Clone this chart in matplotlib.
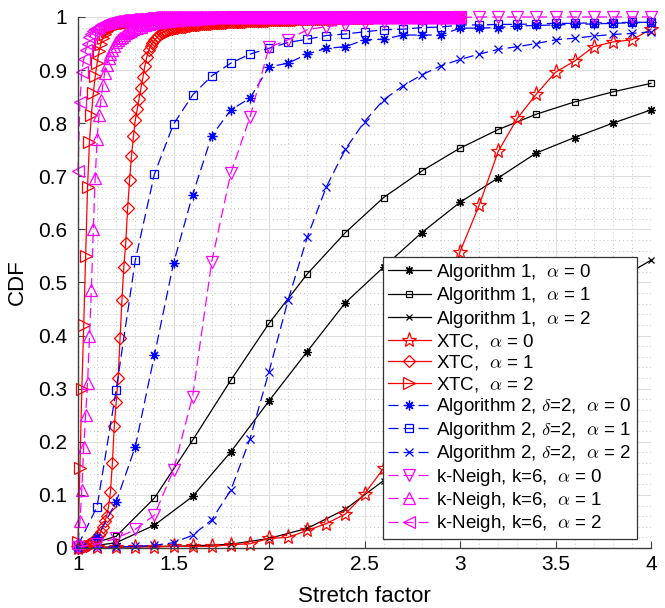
import numpy as np
import matplotlib
matplotlib.use('Agg')
import matplotlib.pyplot as plt
from matplotlib.ticker import MultipleLocator

plt.rcParams['font.family'] = ['Liberation Sans', 'DejaVu Sans']
plt.rcParams['mathtext.fontset'] = 'cm'

# x grids (stretch factor)
x_step2 = [1.0, 1.2, 1.4, 1.6, 1.8, 2.0, 2.2, 2.4, 2.6, 2.8, 3.0, 3.2, 3.4, 3.6, 3.8, 4.0]
x_step1 = [1.0, 1.1, 1.2, 1.3, 1.4, 1.5, 1.6, 1.7, 1.8, 1.9, 2.0, 2.1, 2.2, 2.3, 2.4, 2.5,
           2.6, 2.7, 2.8, 2.9, 3.0, 3.1, 3.2, 3.3, 3.4, 3.5, 3.6, 3.7, 3.8, 3.9, 4.0]
x_dense = np.round(np.arange(1.0, 3.0001, 0.01), 2)

# Algorithm 1
alg1_a0 = [0.0, 0.010, 0.043, 0.097, 0.181, 0.277, 0.370, 0.462, 0.529, 0.594, 0.651, 0.697, 0.744, 0.773, 0.800, 0.825]
alg1_a1 = [0.0, 0.022, 0.094, 0.203, 0.316, 0.423, 0.516, 0.594, 0.660, 0.710, 0.753, 0.788, 0.817, 0.840, 0.859, 0.875]
alg1_a2 = [0.0, 0.002, 0.003, 0.004, 0.007, 0.018, 0.037, 0.073, 0.127, 0.195, 0.265, 0.330, 0.390, 0.445, 0.500, 0.542]

# XTC
xtc_a0 = [0.0, 0.001, 0.002, 0.002, 0.002, 0.003, 0.003, 0.003, 0.006, 0.008, 0.018, 0.020, 0.033, 0.046, 0.064, 0.102,
          0.150, 0.220, 0.310, 0.430, 0.558, 0.645, 0.747, 0.809, 0.855, 0.896, 0.917, 0.944, 0.953, 0.957, 0.977]
xtc_a1 = [0.000, 0.001, 0.002, 0.003, 0.004, 0.005, 0.007, 0.009, 0.011, 0.015,
          0.020, 0.025, 0.031, 0.040, 0.050, 0.060, 0.078, 0.106, 0.160, 0.230,
          0.275, 0.320, 0.395, 0.467, 0.530, 0.575, 0.640, 0.693, 0.738, 0.775,
          0.806, 0.826, 0.845, 0.866, 0.887, 0.908, 0.925, 0.937, 0.945, 0.951,
          0.956, 0.960, 0.964, 0.967, 0.970, 0.972, 0.974, 0.976, 0.977, 0.978,
          0.979, 0.980, 0.980, 0.981, 0.981, 0.982, 0.982, 0.983, 0.983, 0.984,
          0.984, 0.985, 0.985, 0.985, 0.986, 0.986, 0.986, 0.987, 0.987, 0.987,
          0.988, 0.988, 0.988, 0.988, 0.989, 0.989, 0.989, 0.989, 0.990, 0.990,
          0.990, 0.990, 0.990, 0.991, 0.991, 0.991, 0.991, 0.991, 0.992, 0.992,
          0.992, 0.992, 0.992, 0.992, 0.993, 0.993, 0.993, 0.993, 0.993, 0.993,
          0.994, 0.994, 0.994, 0.994, 0.994, 0.994, 0.995, 0.995, 0.995, 0.995,
          0.995, 0.995, 0.995, 0.995, 0.996, 0.996, 0.996, 0.996, 0.996, 0.996,
          0.996, 0.996, 0.996, 0.997, 0.997, 0.997, 0.997, 0.997, 0.997, 0.997,
          0.997, 0.997, 0.997, 0.997, 0.997, 0.998, 0.998, 0.998, 0.998, 0.998,
          0.998, 0.998, 0.998, 0.998, 0.998, 0.998, 0.998, 0.998, 0.998, 0.998,
          0.998, 0.998, 0.998, 0.998, 0.998, 0.999, 0.999, 0.999, 0.999, 0.999,
          0.999, 0.999, 0.999, 0.999, 0.999, 0.999, 0.999, 0.999, 0.999, 0.999,
          0.999, 0.999, 0.999, 0.999, 0.999, 0.999, 0.999, 0.999, 0.999, 0.999,
          0.999, 0.999, 0.999, 0.999, 0.999, 0.999, 1.0, 1.0, 1.0, 1.0,
          1.0, 1.0, 1.0, 1.0, 1.0, 1.0, 1.0, 1.0, 1.0, 1.0,
          1.0]
xtc_a2 = [0.012, 0.150, 0.300, 0.420, 0.550, 0.680, 0.765, 0.815, 0.856, 0.888,
          0.913, 0.935, 0.950, 0.960, 0.968, 0.973, 0.977, 0.980, 0.982, 0.984,
          0.985, 0.986, 0.987, 0.988, 0.988, 0.989, 0.990, 0.990, 0.991, 0.991,
          0.992, 0.992, 0.993, 0.993, 0.993, 0.994, 0.994, 0.994, 0.995, 0.995,
          0.995, 0.995, 0.996, 0.996, 0.996, 0.996, 0.996, 0.997, 0.997, 0.997,
          0.997, 0.997, 0.997, 0.998, 0.998, 0.998, 0.998, 0.998, 0.998, 0.998,
          0.998, 0.998, 0.998, 0.998, 0.998, 0.998, 0.998, 0.998, 0.998, 0.998,
          0.998, 0.998, 0.998, 0.998, 0.998, 0.998, 0.998, 0.998, 0.998, 0.998,
          0.999, 0.999, 0.999, 0.999, 0.999, 0.999, 0.999, 0.999, 0.999, 0.999,
          0.999, 0.999, 0.999, 0.999, 0.999, 0.999, 0.999, 0.999, 0.999, 0.999,
          0.999, 0.999, 0.999, 0.999, 0.999, 0.999, 0.999, 0.999, 0.999, 0.999,
          0.999, 0.999, 0.999, 0.999, 0.999, 0.999, 0.999, 0.999, 0.999, 0.999,
          1.0, 1.0, 1.0, 1.0, 1.0, 1.0, 1.0, 1.0, 1.0, 1.0,
          1.0, 1.0, 1.0, 1.0, 1.0, 1.0, 1.0, 1.0, 1.0, 1.0,
          1.0, 1.0, 1.0, 1.0, 1.0, 1.0, 1.0, 1.0, 1.0, 1.0,
          1.0, 1.0, 1.0, 1.0, 1.0, 1.0, 1.0, 1.0, 1.0, 1.0,
          1.0, 1.0, 1.0, 1.0, 1.0, 1.0, 1.0, 1.0, 1.0, 1.0,
          1.0, 1.0, 1.0, 1.0, 1.0, 1.0, 1.0, 1.0, 1.0, 1.0,
          1.0, 1.0, 1.0, 1.0, 1.0, 1.0, 1.0, 1.0, 1.0, 1.0,
          1.0, 1.0, 1.0, 1.0, 1.0, 1.0, 1.0, 1.0, 1.0, 1.0,
          1.0]

# Algorithm 2, delta = 2
alg2_a0 = [0.0, 0.020, 0.087, 0.191, 0.363, 0.536, 0.665, 0.776, 0.825, 0.847, 0.906, 0.913, 0.930, 0.941, 0.944, 0.957,
           0.958, 0.966, 0.966, 0.966, 0.979, 0.979, 0.980, 0.983, 0.984, 0.985, 0.986, 0.987, 0.988, 0.989, 0.990]
alg2_a1 = [0.005, 0.078, 0.298, 0.542, 0.704, 0.798, 0.853, 0.889, 0.913, 0.930, 0.941, 0.952, 0.958, 0.965, 0.968, 0.972,
           0.976, 0.977, 0.980, 0.981, 0.985, 0.985, 0.986, 0.986, 0.987, 0.988, 0.988, 0.989, 0.989, 0.990, 0.990]
alg2_a2 = [0.0, 0.001, 0.002, 0.003, 0.005, 0.010, 0.024, 0.053, 0.109, 0.205, 0.332, 0.467, 0.585, 0.680, 0.751, 0.803,
           0.844, 0.870, 0.891, 0.908, 0.920, 0.930, 0.939, 0.944, 0.950, 0.957, 0.960, 0.964, 0.967, 0.969, 0.972]

# k-Neigh, k = 6
kn_a0 = [0.002, 0.008, 0.018, 0.035, 0.062, 0.147, 0.285, 0.539, 0.706, 0.811, 0.943, 0.957, 0.976, 0.982, 0.985, 0.989,
         0.991, 0.993, 0.995, 0.997, 0.999, 1.0, 1.0, 1.0, 1.0, 1.0, 1.0, 1.0, 1.0, 1.0, 1.0]
kn_a1 = [0.010, 0.050, 0.110, 0.190, 0.250, 0.310, 0.400, 0.486, 0.600, 0.696,
         0.770, 0.815, 0.844, 0.872, 0.895, 0.910, 0.922, 0.930, 0.938, 0.946,
         0.952, 0.956, 0.960, 0.963, 0.966, 0.969, 0.971, 0.973, 0.975, 0.977,
         0.979, 0.980, 0.981, 0.982, 0.984, 0.985, 0.986, 0.987, 0.988, 0.989,
         0.990, 0.990, 0.991, 0.991, 0.992, 0.992, 0.993, 0.993, 0.994, 0.994,
         0.994, 0.995, 0.995, 0.995, 0.996, 0.996, 0.996, 0.996, 0.997, 0.997,
         0.997, 0.997, 0.997, 0.998, 0.998, 0.998, 0.998, 0.998, 0.998, 0.998,
         0.999, 0.999, 0.999, 0.999, 0.999, 0.999, 0.999, 0.999, 0.999, 0.999,
         0.999, 0.999, 0.999, 0.999, 0.999, 1.0, 1.0, 1.0, 1.0, 1.0,
         1.0, 1.0, 1.0, 1.0, 1.0, 1.0, 1.0, 1.0, 1.0, 1.0,
         1.0, 1.0, 1.0, 1.0, 1.0, 1.0, 1.0, 1.0, 1.0, 1.0,
         1.0, 1.0, 1.0, 1.0, 1.0, 1.0, 1.0, 1.0, 1.0, 1.0,
         1.0, 1.0, 1.0, 1.0, 1.0, 1.0, 1.0, 1.0, 1.0, 1.0,
         1.0, 1.0, 1.0, 1.0, 1.0, 1.0, 1.0, 1.0, 1.0, 1.0,
         1.0, 1.0, 1.0, 1.0, 1.0, 1.0, 1.0, 1.0, 1.0, 1.0,
         1.0, 1.0, 1.0, 1.0, 1.0, 1.0, 1.0, 1.0, 1.0, 1.0,
         1.0, 1.0, 1.0, 1.0, 1.0, 1.0, 1.0, 1.0, 1.0, 1.0,
         1.0, 1.0, 1.0, 1.0, 1.0, 1.0, 1.0, 1.0, 1.0, 1.0,
         1.0, 1.0, 1.0, 1.0, 1.0, 1.0, 1.0, 1.0, 1.0, 1.0,
         1.0, 1.0, 1.0, 1.0, 1.0, 1.0, 1.0, 1.0, 1.0, 1.0,
         1.0]
kn_a2 = [0.709, 0.840, 0.897, 0.920, 0.937, 0.950, 0.962, 0.968, 0.973, 0.977,
         0.980, 0.982, 0.984, 0.986, 0.987, 0.988, 0.989, 0.990, 0.991, 0.992,
         0.993, 0.993, 0.994, 0.994, 0.995, 0.995, 0.995, 0.996, 0.996, 0.996,
         0.997, 0.997, 0.997, 0.997, 0.998, 0.998, 0.998, 0.998, 0.998, 0.999,
         0.999, 0.999, 0.999, 0.999, 0.999, 0.999, 0.999, 0.999, 0.999, 0.999,
         0.999, 0.999, 0.999, 0.999, 0.999, 0.999, 0.999, 0.999, 0.999, 0.999,
         1.0, 1.0, 1.0, 1.0, 1.0, 1.0, 1.0, 1.0, 1.0, 1.0,
         1.0, 1.0, 1.0, 1.0, 1.0, 1.0, 1.0, 1.0, 1.0, 1.0,
         1.0, 1.0, 1.0, 1.0, 1.0, 1.0, 1.0, 1.0, 1.0, 1.0,
         1.0, 1.0, 1.0, 1.0, 1.0, 1.0, 1.0, 1.0, 1.0, 1.0,
         1.0, 1.0, 1.0, 1.0, 1.0, 1.0, 1.0, 1.0, 1.0, 1.0,
         1.0, 1.0, 1.0, 1.0, 1.0, 1.0, 1.0, 1.0, 1.0, 1.0,
         1.0, 1.0, 1.0, 1.0, 1.0, 1.0, 1.0, 1.0, 1.0, 1.0,
         1.0, 1.0, 1.0, 1.0, 1.0, 1.0, 1.0, 1.0, 1.0, 1.0,
         1.0, 1.0, 1.0, 1.0, 1.0, 1.0, 1.0, 1.0, 1.0, 1.0,
         1.0, 1.0, 1.0, 1.0, 1.0, 1.0, 1.0, 1.0, 1.0, 1.0,
         1.0, 1.0, 1.0, 1.0, 1.0, 1.0, 1.0, 1.0, 1.0, 1.0,
         1.0, 1.0, 1.0, 1.0, 1.0, 1.0, 1.0, 1.0, 1.0, 1.0,
         1.0, 1.0, 1.0, 1.0, 1.0, 1.0, 1.0, 1.0, 1.0, 1.0,
         1.0, 1.0, 1.0, 1.0, 1.0, 1.0, 1.0, 1.0, 1.0, 1.0,
         1.0]

MAG = '#ff00ff'
ASTER = (8, 2, 0)
DASH = (0, (8, 4))

# (x, y, label, colour, linestyle, marker, markersize)
series = [
    (x_step2, alg1_a0, r'Algorithm 1,  $\alpha$ = 0', 'k', '-', ASTER, 6),
    (x_step2, alg1_a1, r'Algorithm 1,  $\alpha$ = 1', 'k', '-', 's', 5),
    (x_step2, alg1_a2, r'Algorithm 1,  $\alpha$ = 2', 'k', '-', 'x', 5),
    (x_step1, xtc_a0, r'XTC,  $\alpha$ = 0', 'r', '-', '*', 11),
    (x_dense, xtc_a1, r'XTC,  $\alpha$ = 1', 'r', '-', 'D', 6),
    (x_dense, xtc_a2, r'XTC,  $\alpha$ = 2', 'r', '-', '>', 8),
    (x_step1, alg2_a0, r'Algorithm 2, $\delta$=2,  $\alpha$ = 0', 'b', DASH, ASTER, 7),
    (x_step1, alg2_a1, r'Algorithm 2, $\delta$=2,  $\alpha$ = 1', 'b', DASH, 's', 6),
    (x_step1, alg2_a2, r'Algorithm 2, $\delta$=2,  $\alpha$ = 2', 'b', DASH, 'x', 6),
    (x_step1, kn_a0, r'k-Neigh, k=6,  $\alpha$ = 0', MAG, DASH, 'v', 9),
    (x_dense, kn_a1, r'k-Neigh, k=6,  $\alpha$ = 1', MAG, DASH, '^', 9),
    (x_dense, kn_a2, r'k-Neigh, k=6,  $\alpha$ = 2', MAG, DASH, '<', 9),
]

fig = plt.figure(figsize=(6.65, 6.08), dpi=100)
ax = fig.add_axes([0.1173, 0.0987, 0.8617, 0.8734])

for xs, ys, lab, col, ls, mk, ms in series:
    ax.plot(xs, ys, color=col, linestyle=ls, linewidth=0.9, marker=mk, markersize=ms,
            markerfacecolor='none', markeredgecolor=col, markeredgewidth=0.9,
            label=lab, clip_on=False)

ax.set_xlim(1, 4)
ax.set_ylim(0, 1)
ax.set_xticks([1, 1.5, 2, 2.5, 3, 3.5, 4])
ax.set_xticklabels(['1', '1.5', '2', '2.5', '3', '3.5', '4'])
ax.set_yticks(np.round(np.arange(0, 1.01, 0.1), 1))
ax.set_yticklabels(['0', '0.1', '0.2', '0.3', '0.4', '0.5', '0.6', '0.7', '0.8', '0.9', '1'])
ax.xaxis.set_minor_locator(MultipleLocator(0.1))
ax.yaxis.set_minor_locator(MultipleLocator(0.02))
ax.grid(which='major', color='#dedede', linestyle='-', linewidth=0.8)
ax.grid(which='minor', color='#c4c4c4', linestyle=(0, (1, 3)), linewidth=0.7)
ax.set_axisbelow(True)

for s in ['top', 'right']:
    ax.spines[s].set_visible(False)
for s in ['left', 'bottom']:
    ax.spines[s].set_color('#404040')
    ax.spines[s].set_linewidth(1.0)
ax.tick_params(which='major', direction='in', length=5, width=0.8, color='#404040',
               labelsize=15)
ax.tick_params(axis='y', pad=8)
ax.tick_params(axis='x', pad=5)
ax.tick_params(which='minor', length=0)

ax.set_xlabel('Stretch factor', fontsize=16, labelpad=9)
ax.set_ylabel('CDF', fontsize=16, labelpad=7)

leg = ax.legend(loc='upper left', bbox_to_anchor=(0.532, 0.548), borderaxespad=0,
                fontsize=13.5, numpoints=1, handlelength=2.3, labelspacing=0.13,
                handletextpad=0.3, borderpad=0.25, fancybox=False, framealpha=1,
                edgecolor='#333333')
leg.get_frame().set_linewidth(0.9)
leg.set_zorder(10)

fig.savefig('out.png', dpi=100)
